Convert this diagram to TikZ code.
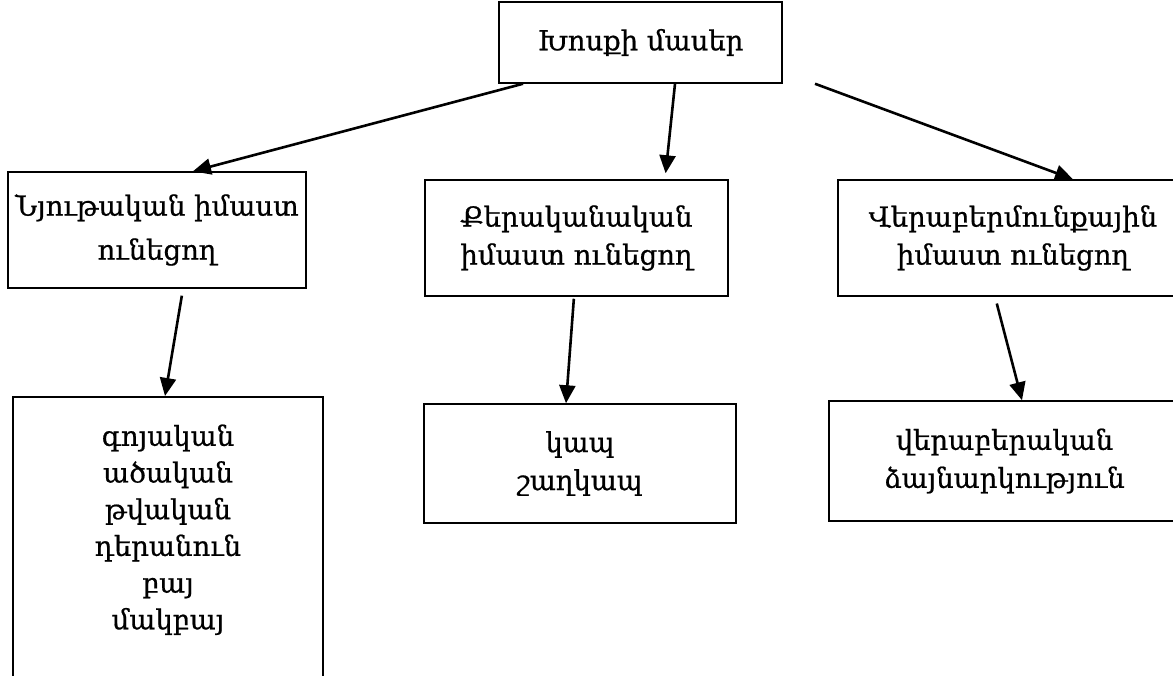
\documentclass[tikz,border=0pt]{standalone}
\usepackage{fontspec}
\setmainfont{DejaVu Serif}[BoldFont=DejaVu Serif, BoldFeatures={FakeBold=0.7}]
\usepackage{tikz}
\usetikzlibrary{arrows.meta}

\begin{document}
\begin{tikzpicture}[x=1pt, y=-1pt,
  part/.style={draw, line width=1.5pt, align=center, inner sep=0pt, font=\fontsize{27.5}{38}\selectfont\bfseries},
  arrow/.style={-{Triangle[length=18pt,width=16pt]}, line width=2.6pt}
]
\useasboundingbox (0,0) rectangle (1173,675);
\node[part, minimum width=283pt, minimum height=81pt] (speech) at (640.5,42.5) {Խոսքի մասեր};
\node[part, minimum width=298pt, minimum height=116pt] (lexical) at (157,230) {Նյութական իմաստ\\[6pt]ունեցող};
\node[part, minimum width=303pt, minimum height=116pt] (grammar) at (576.5,238) {Քերականական\\իմաստ ունեցող};
\node[part, minimum width=350pt, minimum height=116pt] (modal) at (1013,238) {Վերաբերմունքային\\իմաստ ունեցող};
\node[part, anchor=north, minimum width=310pt] (nouns) at (168,396)
  {\parbox[t][320pt][t]{310pt}{\centering\fontsize{27.5}{36.7}\selectfont
   \rule{0pt}{49pt}գոյական\\ածական\\թվական\\դերանուն\\բայ\\մակբայ}};
\node[part, minimum width=312pt, minimum height=119pt] (links) at (580,463.5) {կապ\\շաղկապ};
\node[part, minimum width=351pt, minimum height=120pt] (particles) at (1004.5,461) {վերաբերական\\ձայնարկություն};

\draw[arrow] ([xshift=-117.5pt]speech.south) -- ([xshift=36pt]lexical.north);
\draw[arrow, shorten >=6pt] ([xshift=34.5pt]speech.south) -- ([xshift=88.5pt]grammar.north);
\draw[arrow] ([xshift=174.5pt]speech.south) -- ([xshift=60pt]modal.north);
\draw[arrow, shorten <=7pt] ([xshift=26pt]lexical.south) -- ([xshift=-3pt]nouns.north);
\draw[arrow, shorten <=2pt] ([xshift=-2.5pt]grammar.south) -- ([xshift=-14pt]links.north);
\draw[arrow, shorten <=7pt] ([xshift=-18pt]modal.south) -- ([xshift=17.5pt]particles.north);
\end{tikzpicture}
\end{document}
